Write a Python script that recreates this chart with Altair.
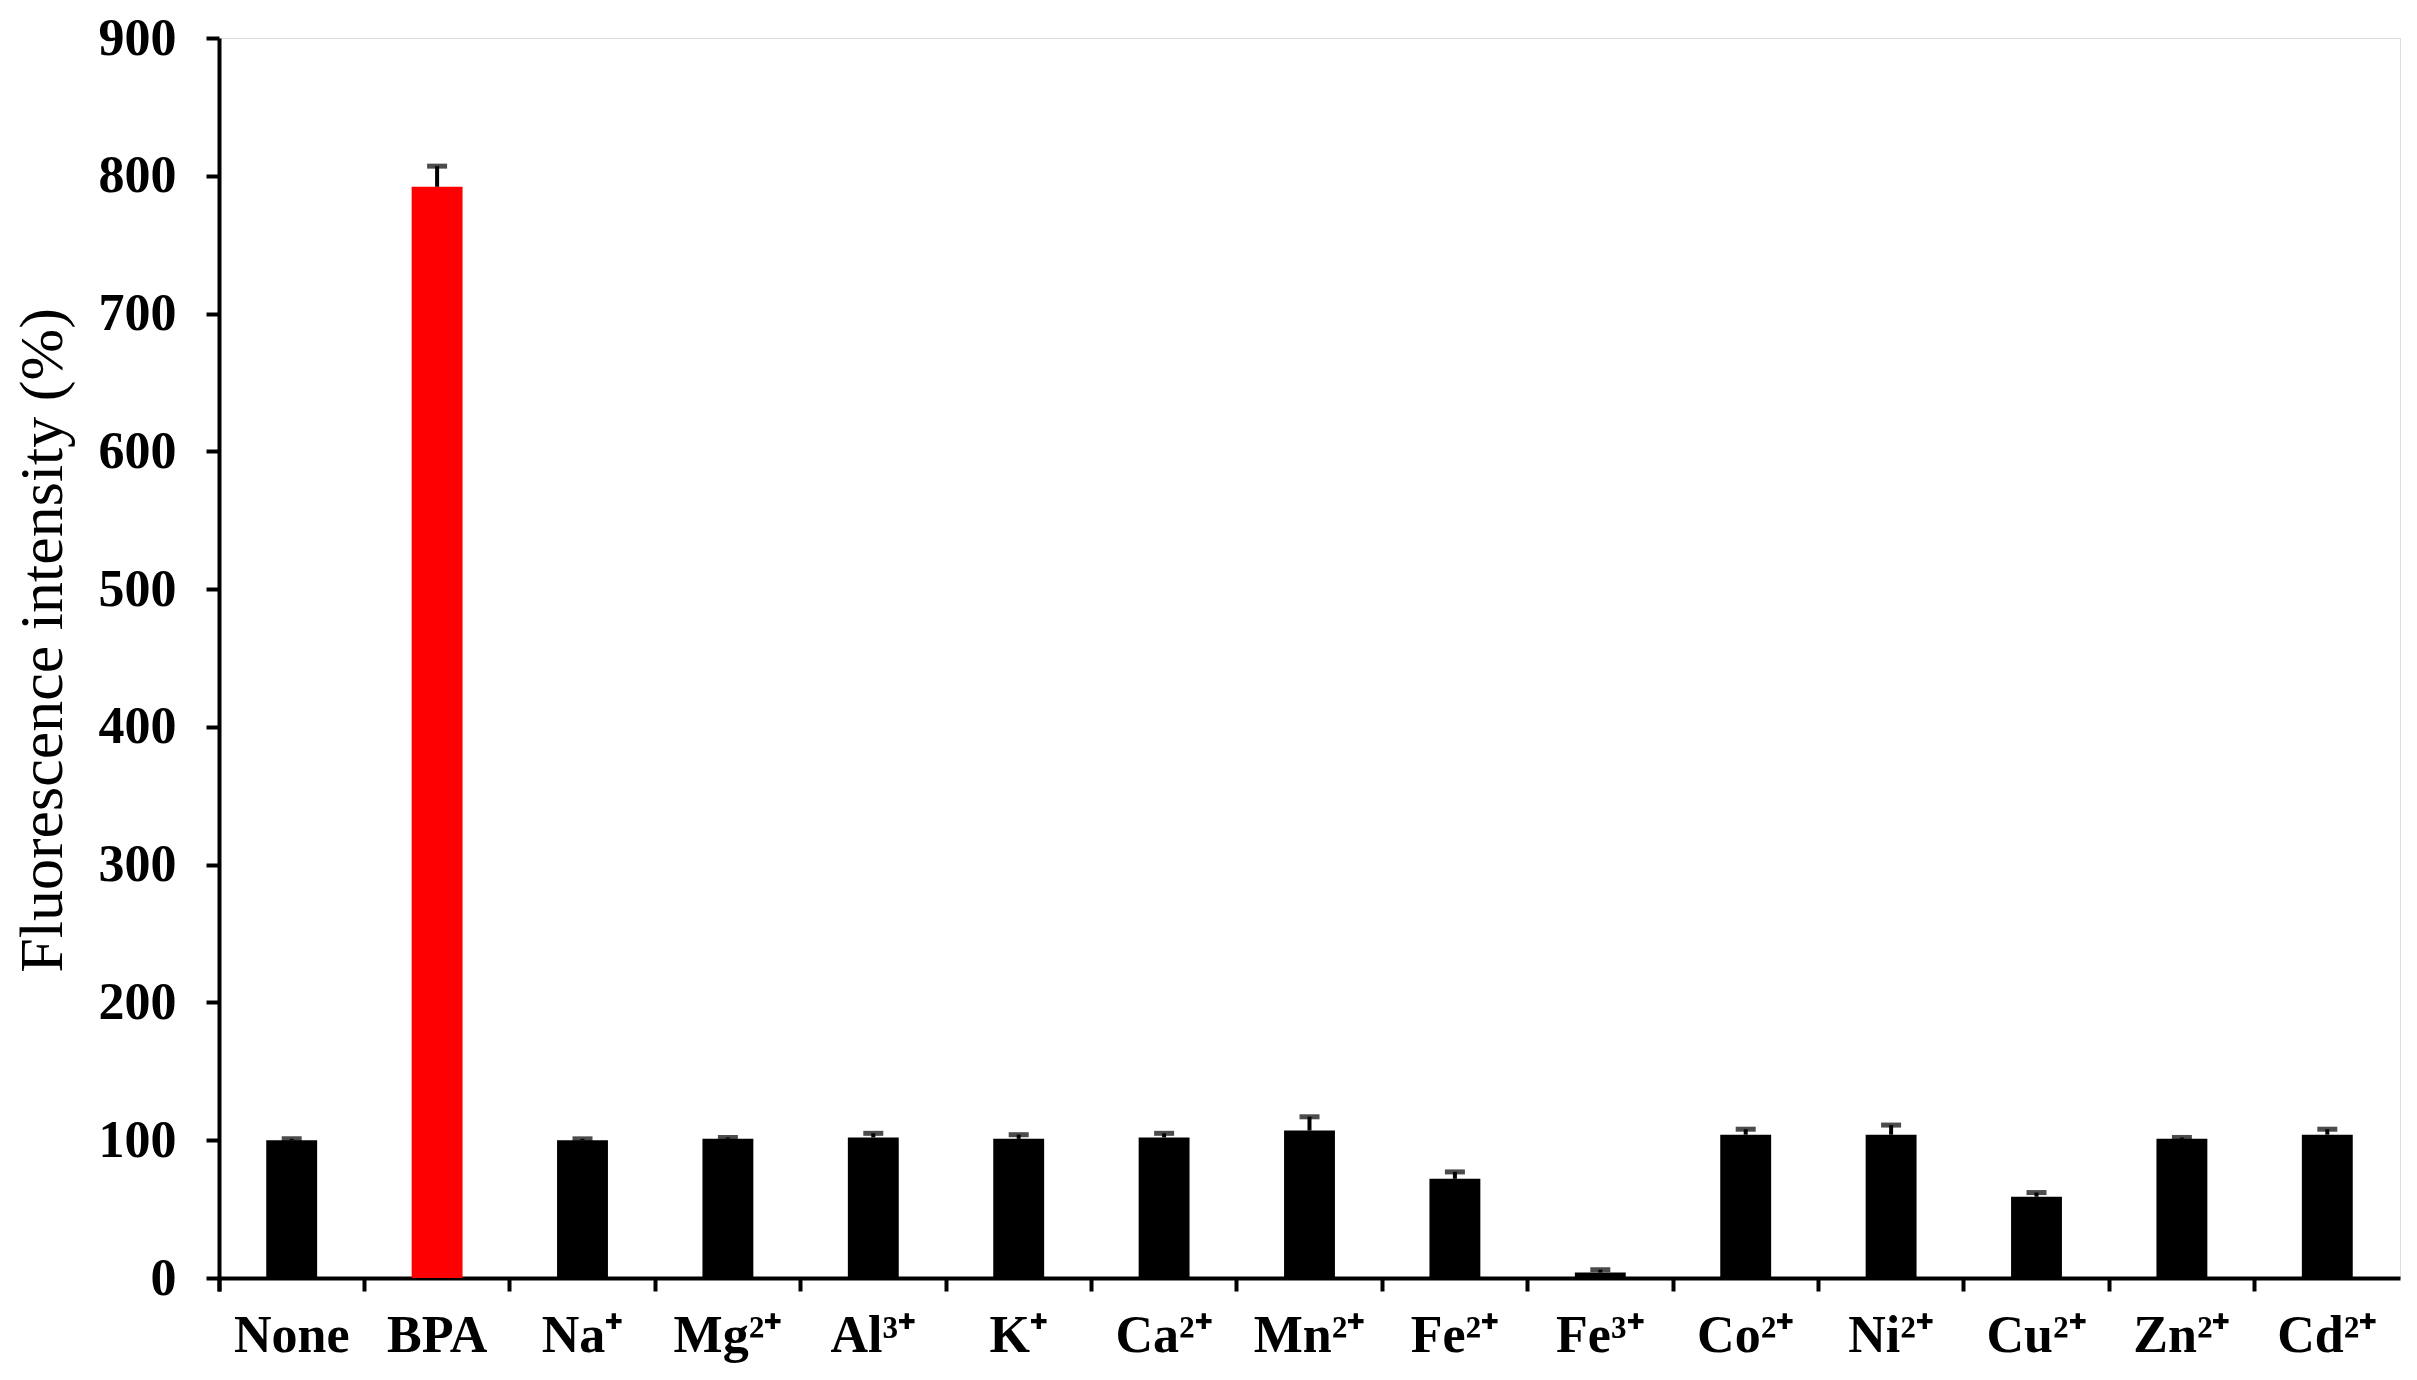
import altair as alt
import pandas as pd

categories = ["None", "BPA", "Na⁺", "Mg²⁺", "Al³⁺", "K⁺", "Ca²⁺", "Mn²⁺",
              "Fe²⁺", "Fe³⁺", "Co²⁺", "Ni²⁺", "Cu²⁺", "Zn²⁺", "Cd²⁺"]
values = [100, 792, 100, 101, 102, 101, 102, 107, 72, 4, 104, 104, 59, 101, 104]
errors = [1, 15, 1, 1, 3, 3, 3, 10, 5, 2, 4, 7, 3, 1, 4]

df = pd.DataFrame({"cat": categories, "val": values, "err": errors})
df["top"] = df["val"] + df["err"]

FONT = "Liberation Serif"
H = 1240

xscale = alt.Scale(paddingInner=0, paddingOuter=0)
xaxis = alt.Axis(title=None, labelAngle=0, labelFont=FONT,
                 labelFontSize=52, labelFontWeight="bold",
                 labelColor="black", labelPadding=19,
                 bandPosition=0, tickExtra=True,
                 tickSize=13, tickWidth=4,
                 tickColor="black", domainWidth=4,
                 domainColor="black", grid=False)

yscale = alt.Scale(domain=[0, 900])

bars = alt.Chart(df).mark_bar(width=alt.RelativeBandSize(0.35)).encode(
    x=alt.X("cat:N", sort=categories, scale=xscale, axis=xaxis),
    y=alt.Y("val:Q", scale=yscale,
            axis=alt.Axis(title="Fluorescence intensity (%)",
                          values=list(range(0, 1000, 100)),
                          labelFont=FONT, labelFontSize=52,
                          labelFontWeight="bold", labelColor="black",
                          labelPadding=30, tickSize=13, tickWidth=4,
                          tickColor="black", domainWidth=4,
                          domainColor="black", grid=False,
                          titleFont=FONT, titleFontSize=62,
                          titleFontWeight="normal", titleColor="black",
                          titlePadding=24, titleY=H / 2 - 18)),
    color=alt.condition(alt.datum.cat == "BPA", alt.value("#ff0000"),
                        alt.value("black")),
)

rules = alt.Chart(df).mark_rule(color="black", strokeWidth=4).encode(
    x=alt.X("cat:N", sort=categories, scale=xscale, axis=xaxis),
    y=alt.Y("val:Q", scale=yscale),
    y2="top:Q",
)

caps = alt.Chart(df).mark_tick(color="black", thickness=5, size=20).encode(
    x=alt.X("cat:N", sort=categories, scale=xscale, axis=xaxis),
    y=alt.Y("top:Q", scale=yscale),
)

chart = alt.layer(bars, rules, caps).properties(
    width=2181, height=H,
    autosize=alt.AutoSizeParams(type="none"),
    padding={"left": 211, "top": 30, "right": 5, "bottom": 92},
).configure_view(stroke=None).configure(background="white")

chart.save("out.html", embed_options={"renderer": "svg", "actions": False})
